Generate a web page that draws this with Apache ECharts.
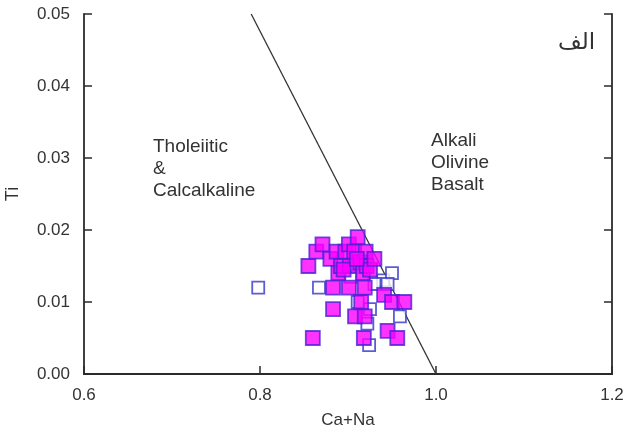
<!DOCTYPE html>
<html>
<head>
<meta charset="utf-8">
<script src="https://cdn.jsdelivr.net/npm/echarts@6/dist/echarts.min.js"></script>
<style>
  html, body { margin: 0; padding: 0; background: #fff; }
  #chart { width: 628px; height: 430px; }
</style>
</head>
<body>
<div id="chart"></div>
<script>
// [Ca+Na, Ti]
const filledSamples = [
  [0.855, 0.015], [0.860, 0.005], [0.864, 0.017], [0.871, 0.018], [0.880, 0.016],
  [0.883, 0.009], [0.883, 0.012], [0.887, 0.017], [0.889, 0.014], [0.892, 0.015],
  [0.897, 0.017], [0.901, 0.018], [0.901, 0.012], [0.902, 0.015], [0.907, 0.017],
  [0.908, 0.008], [0.911, 0.019], [0.914, 0.0155], [0.915, 0.010], [0.917, 0.014],
  [0.918, 0.005], [0.919, 0.012], [0.919, 0.008], [0.920, 0.017], [0.921, 0.015],
  [0.925, 0.0145], [0.930, 0.016], [0.941, 0.011], [0.945, 0.006], [0.950, 0.010],
  [0.956, 0.005], [0.964, 0.010], [0.895, 0.0145], [0.910, 0.016]
];
const openSamples = [
  [0.798, 0.012], [0.867, 0.012], [0.903, 0.0135], [0.911, 0.010], [0.922, 0.007],
  [0.924, 0.004], [0.925, 0.009], [0.940, 0.013], [0.950, 0.014], [0.959, 0.008],
  [0.930, 0.0125], [0.945, 0.0125]
];
const boundary = [[0.79, 0.05], [1.0, 0.0]];

const chart = echarts.init(document.getElementById("chart"));
const axisColor = "#2b2b2b";
const labelFont = { color: "#333", fontSize: 17, fontFamily: "Liberation Sans, Arial" };

chart.setOption({
  animation: false,
  grid: { left: 84, right: 16, top: 14, bottom: 56, outerBoundsMode: "none", containLabel: false },
  xAxis: [{
    type: "value", min: 0.6, max: 1.2, interval: 0.2,
    name: "Ca+Na", nameLocation: "middle", nameGap: 38,
    nameTextStyle: labelFont,
    axisLine: { lineStyle: { color: axisColor, width: 1.8 } },
    axisTick: { inside: true, length: 8, lineStyle: { color: axisColor, width: 1.5 } },
    axisLabel: { ...labelFont, margin: 13, formatter: v => v.toFixed(1) },
    splitLine: { show: false }
  }, {
    type: "value", min: 0.6, max: 1.2, position: "top",
    axisLine: { lineStyle: { color: axisColor, width: 1.8 } },
    axisTick: { show: false }, axisLabel: { show: false }, splitLine: { show: false }
  }],
  yAxis: [{
    type: "value", min: 0, max: 0.05, interval: 0.01,
    name: "Ti", nameLocation: "middle", nameGap: 62,
    nameTextStyle: { ...labelFont, fontSize: 18 },
    axisLine: { lineStyle: { color: axisColor, width: 1.8 } },
    axisTick: { inside: true, length: 8, lineStyle: { color: axisColor, width: 1.5 } },
    axisLabel: { ...labelFont, margin: 14, formatter: v => v.toFixed(2) },
    splitLine: { show: false }
  }, {
    type: "value", min: 0, max: 0.05, interval: 0.01, position: "right",
    axisLine: { show: true, lineStyle: { color: axisColor, width: 1.8 } },
    axisTick: { show: true, inside: true, length: 8, lineStyle: { color: axisColor, width: 1.5 } },
    axisLabel: { show: false }, splitLine: { show: false }
  }],
  graphic: [
    { type: "text", left: 153, top: 136,
      style: { text: "Tholeiitic\n&\nCalcalkaline", fill: "#333", font: "19px Liberation Sans, Arial", lineHeight: 22 } },
    { type: "text", left: 431, top: 130,
      style: { text: "Alkali\nOlivine\nBasalt", fill: "#333", font: "19px Liberation Sans, Arial", lineHeight: 22 } },
    { type: "text", left: 558, top: 32,
      style: { text: "الف", fill: "#333", font: "23px DejaVu Sans" } }
  ],
  series: [
    {
      type: "line", data: boundary, symbol: "none",
      lineStyle: { color: "#333", width: 1.3 }, z: 1
    },
    {
      type: "scatter", data: openSamples, symbol: "rect", symbolSize: 12,
      itemStyle: { color: "#fff", borderColor: "#3535c8", borderWidth: 1.8 }, z: 2
    },
    {
      type: "scatter", data: filledSamples, symbol: "rect", symbolSize: 14,
      itemStyle: { color: "#ff00ff", borderColor: "#4a22d4", borderWidth: 1.8 }, z: 3
    }
  ]
});
</script>
</body>
</html>
